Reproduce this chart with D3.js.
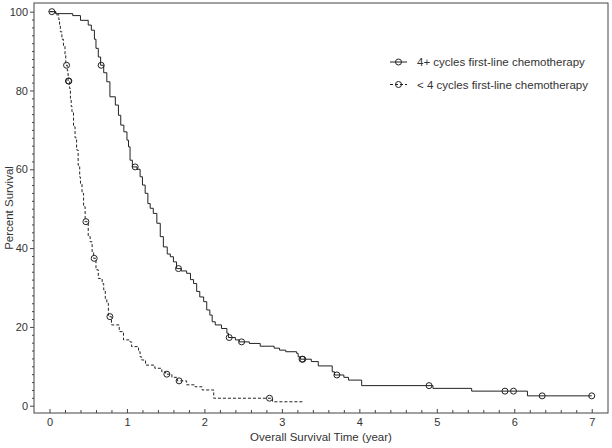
<!DOCTYPE html>
<html>
<head>
<meta charset="utf-8">
<script src="https://cdn.jsdelivr.net/npm/d3@7"></script>
<style>
  body { margin: 0; background: #fff; }
  text { font-family: "Liberation Sans", Arial, sans-serif; fill: #333; }
</style>
</head>
<body>
<svg id="chart" width="612" height="448"></svg>
<script>
// ---- data ----
const seriesNames = ["4+ cycles first-line chemotherapy", "< 4 cycles first-line chemotherapy"];

// 4+ cycles: step times (year) and survival (%) after each step
const moreTimes = [0, 0.08, 0.3, 0.4, 0.5, 0.54, 0.58, 0.6, 0.63, 0.66, 0.7, 0.74, 0.78, 0.85, 0.89,
  0.92, 0.96, 1.0, 1.02, 1.04, 1.07, 1.13, 1.17, 1.2, 1.235, 1.27, 1.3, 1.34, 1.386, 1.43, 1.47,
  1.52, 1.56, 1.6, 1.64, 1.7, 1.77, 1.82, 1.86, 1.9, 1.94, 1.99, 2.03, 2.07, 2.1, 2.14, 2.22, 2.29,
  2.31, 2.4, 2.45, 2.58, 2.72, 2.9, 2.97, 3.05, 3.19, 3.21, 3.24, 3.38, 3.47, 3.65, 3.68, 3.8, 3.86,
  4.03, 4.95, 5.45, 6.17, 7.0];
const moreSurv = [100, 99.5, 99, 97.8, 96.6, 95.3, 93, 90.7, 88.5, 86.4, 84.5, 82.2, 78.4, 76.3, 73.7,
  71.2, 69.5, 67.4, 65.7, 62.3, 60.6, 60, 58.1, 56, 53.9, 51.3, 50.1, 48.8, 46.3, 42.9, 40.3,
  38.5, 37.8, 36.5, 34.8, 34.2, 33.6, 32, 31, 29, 27.6, 26.4, 24.3, 23, 21.3, 20.5, 19.6, 18.4,
  17.3, 16.7, 16.2, 15.8, 15.1, 14.6, 14.1, 13.7, 13.3, 12.4, 11.8, 11.2, 10.1, 8.6, 7.8, 7.2, 6.5,
  5.1, 4.4, 3.7, 2.5, 2.5];
const moreCensored = [0.667, 1.106, 1.665, 2.32, 2.48, 3.26, 3.27, 3.71, 4.9, 5.88, 5.99, 6.36, 7.0];

// < 4 cycles
const fewerTimes = [0, 0.08, 0.12, 0.13, 0.14, 0.16, 0.18, 0.2, 0.21, 0.23, 0.24, 0.26, 0.27, 0.28,
  0.29, 0.31, 0.33, 0.35, 0.37, 0.39, 0.4, 0.42, 0.44, 0.46, 0.5, 0.525, 0.55, 0.57, 0.6, 0.63, 0.68,
  0.7, 0.72, 0.74, 0.76, 0.8, 0.9, 0.955, 1.04, 1.06, 1.15, 1.17, 1.19, 1.24, 1.36, 1.45, 1.5, 1.58,
  1.65, 1.77, 1.88, 1.97, 2.12, 2.88, 3.27];
const fewerSurv = [100, 99.2, 98, 96.5, 94.9, 93, 91.2, 89, 86.4, 85, 82.4, 80.5, 78, 76,
  74.6, 70.8, 68, 64.9, 61, 58, 56.4, 53.9, 50.5, 46.7, 42.9, 41.6, 39, 37.4, 34.5, 32.3, 31,
  29.4, 27.2, 26, 22.6, 20.5, 18.8, 16.7, 16.2, 15, 13.7, 12.4, 11.6, 10.3, 9.5, 8.6, 8.0, 7.2,
  6.3, 5.3, 4.8, 4.0, 1.9, 1.0, 1.0];
const fewerCensored = [0.03, 0.22, 0.245, 0.25, 0.47, 0.577, 0.78, 1.515, 1.673, 2.84];

const xTicks = [0, 1, 2, 3, 4, 5, 6, 7];
const yTicks = [0, 20, 40, 60, 80, 100];

const xLabel = "Overall Survival Time (year)";
const yLabel = "Percent Survival";

// ---- drawing ----
const svg = d3.select("#chart");
const plotLeft = 34, plotRight = 608, plotTop = 3, plotBottom = 413;

const x = d3.scaleLinear().domain([-0.2, 7.21]).range([plotLeft, plotRight]);
const y = d3.scaleLinear().domain([-1.85, 102.2]).range([plotBottom, plotTop]);

// frame
svg.append("rect")
  .attr("x", plotLeft).attr("y", plotTop)
  .attr("width", plotRight - plotLeft).attr("height", plotBottom - plotTop)
  .attr("fill", "none").attr("stroke", "#444").attr("stroke-width", 1);

// y axis: major + minor ticks, outward
const yAxis = svg.append("g").attr("transform", `translate(${plotLeft},0)`)
  .call(d3.axisLeft(y).tickValues(yTicks).tickSize(4).tickPadding(2));
yAxis.select(".domain").remove();
yAxis.selectAll("line").attr("stroke", "#444");
yAxis.selectAll("text").style("font-size", "11px").attr("fill", "#333");

const yMinor = svg.append("g").attr("transform", `translate(${plotLeft},0)`)
  .call(d3.axisLeft(y).tickValues(d3.range(0, 101, 2).filter(d => d % 20)).tickSize(2).tickFormat(""));
yMinor.select(".domain").remove();
yMinor.selectAll("line").attr("stroke", "#444");

// x axis: ticks point inward
const xAxis = svg.append("g").attr("transform", `translate(0,${plotBottom})`)
  .call(d3.axisBottom(x).tickValues(xTicks).tickSize(-4).tickPadding(5).tickFormat(d3.format("d")));
xAxis.select(".domain").remove();
xAxis.selectAll("line").attr("stroke", "#444");
xAxis.selectAll("text").style("font-size", "11px").attr("fill", "#333");

const xMinor = svg.append("g").attr("transform", `translate(0,${plotBottom})`)
  .call(d3.axisBottom(x).tickValues(d3.range(0, 7.01, 0.2).filter(d => Math.abs(d - Math.round(d)) > 0.01))
    .tickSize(-3).tickFormat(""));
xMinor.select(".domain").remove();
xMinor.selectAll("line").attr("stroke", "#444");

// axis titles
svg.append("text")
  .attr("x", (plotLeft + plotRight) / 2).attr("y", 441)
  .attr("text-anchor", "middle").style("font-size", "11.5px")
  .text(xLabel);
svg.append("text")
  .attr("transform", `translate(12.5,${(plotTop + plotBottom) / 2}) rotate(-90)`)
  .attr("text-anchor", "middle").style("font-size", "11.5px")
  .text(yLabel);

// curves
const series = [
  { name: seriesNames[0], times: moreTimes, surv: moreSurv, cens: moreCensored, dash: null },
  { name: seriesNames[1], times: fewerTimes, surv: fewerSurv, cens: fewerCensored, dash: "3,2" }
];

const stepLine = d3.line()
  .x(d => x(d[0]))
  .y(d => y(d[1]))
  .curve(d3.curveStepAfter);

const bis = d3.bisector(d => d).right;

series.forEach(s => {
  const pts = s.times.map((t, i) => [t, s.surv[i]]);
  svg.append("path")
    .datum(pts)
    .attr("d", stepLine)
    .attr("fill", "none")
    .attr("stroke", "#222")
    .attr("stroke-width", 1)
    .attr("stroke-dasharray", s.dash);

  // censor marks sit on the step curve
  svg.append("g").selectAll("circle")
    .data(s.cens)
    .join("circle")
    .attr("cx", d => x(d))
    .attr("cy", d => y(s.surv[Math.max(0, bis(s.times, d) - 1)]))
    .attr("r", 3)
    .attr("fill", "none")
    .attr("stroke", "#222")
    .attr("stroke-width", 1);
});

// legend
const legend = svg.append("g").attr("transform", "translate(390,62)");
series.forEach((s, i) => {
  const g = legend.append("g").attr("transform", `translate(0,${i * 22.5})`);
  g.append("line").attr("x1", 0).attr("x2", 17).attr("y1", 0).attr("y2", 0)
    .attr("stroke", "#222").attr("stroke-dasharray", s.dash);
  g.append("circle").attr("cx", 8.5).attr("cy", 0).attr("r", 3)
    .attr("fill", "none").attr("stroke", "#222");
  g.append("text").attr("x", 27).attr("y", 4)
    .style("font-size", "11.5px")
    .text(s.name);
});
</script>
</body>
</html>
